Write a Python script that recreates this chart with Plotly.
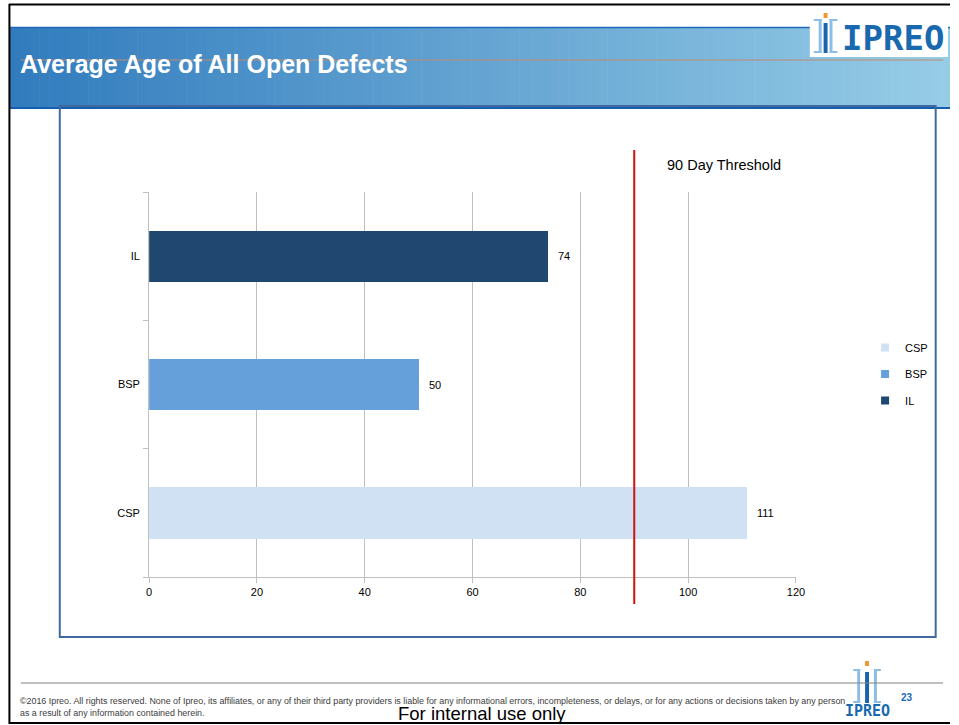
import plotly.graph_objects as go

# ---- data ----
categories = ["CSP", "BSP", "IL"]
values = [111, 50, 74]
colors = ["#D0E1F3", "#65A0DB", "#1F4770"]
x_ticks = [0, 20, 40, 60, 80, 100, 120]
threshold = 90
threshold_label = "90 Day Threshold"
title_text = "Average Age of All Open Defects"
footer_line1 = ("©2016 Ipreo. All rights reserved. None of Ipreo, its affiliates, or any of their third party providers "
                "is liable for any informational errors, incompleteness, or delays, or for any actions or decisions taken by any person")
footer_line2 = "as a result of any information contained herein."
internal_text = "For internal use only"
page_number = "23"

W, H = 959, 725


def px(x):
    return x / W


def py(y):
    return 1 - y / H


fig = go.Figure()

for cat, val, col in zip(categories, values, colors):
    fig.add_trace(go.Bar(
        y=[cat], x=[val], orientation="h", name=cat, marker=dict(color=col, line=dict(width=0)),
        width=0.4, legendgroup=cat, showlegend=False, hoverinfo="x+y",
    ))
# legend entries (small square keys)
for cat, col in zip(categories, colors):
    fig.add_trace(go.Scatter(
        x=[None], y=[None], mode="markers", name=cat, legendgroup=cat,
        marker=dict(symbol="square", size=8, color=col), showlegend=True, hoverinfo="skip",
    ))

shapes = []
annotations = []

# header gradient
x0, x1 = 7, 959
n = 96
c0 = (50, 124, 190)
c1 = (150, 204, 230)
step = (x1 - x0) / n
for i in range(n):
    t = i / (n - 1)
    c = tuple(int(round(c0[k] + (c1[k] - c0[k]) * t)) for k in range(3))
    shapes.append(dict(type="rect", xref="paper", yref="paper",
                       x0=px(x0 + i * step), x1=px(min(x0 + (i + 1) * step + 0.6, W)),
                       y0=py(108), y1=py(27), fillcolor="rgb(%d,%d,%d)" % c, line=dict(width=0), layer="below"))
# header lines
shapes.append(dict(type="line", xref="paper", yref="paper", x0=px(7), x1=1, y0=py(27.5), y1=py(27.5),
                   line=dict(color="rgb(30,105,185)", width=1.5)))
shapes.append(dict(type="line", xref="paper", yref="paper", x0=px(7), x1=1, y0=py(108), y1=py(108),
                   line=dict(color="rgb(20,95,175)", width=2)))
# orange line through title
shapes.append(dict(type="line", xref="paper", yref="paper", x0=px(18), x1=px(952), y0=py(60), y1=py(60),
                   line=dict(color="rgb(190,140,110)", width=1)))
# logo white box
shapes.append(dict(type="rect", xref="paper", yref="paper", x0=px(817), x1=px(957), y0=py(57), y1=py(8),
                   fillcolor="white", line=dict(width=0)))
lb = "rgb(140,190,232)"
db = "rgb(25,100,170)"
og = "rgb(240,150,50)"


def rect(xa, ya, xb, yb, col):
    shapes.append(dict(type="rect", xref="paper", yref="paper", x0=px(xa), x1=px(xb), y0=py(yb), y1=py(ya),
                       fillcolor=col, line=dict(width=0)))


# top logo symbol
rect(826, 19, 829, 53, lb); rect(821, 19, 829, 21, lb); rect(821, 51, 829, 53, lb)
rect(831, 23, 835, 53, db); rect(831, 13, 835, 18, og)
rect(837, 19, 840, 53, lb); rect(837, 19, 845, 21, lb); rect(837, 51, 845, 53, lb)
# bottom logo symbol
rect(865, 669, 868, 703, lb); rect(861, 669, 868, 671, lb); rect(861, 701, 868, 703, lb)
rect(873, 672, 877, 703, db); rect(873, 661, 877, 666, og)
rect(882, 669, 885, 703, lb); rect(882, 669, 889, 671, lb); rect(882, 701, 889, 703, lb)

# slide borders
shapes.append(dict(type="line", xref="paper", yref="paper", x0=px(6), x1=1, y0=py(4.5), y1=py(4.5),
                   line=dict(color="black", width=2)))
shapes.append(dict(type="line", xref="paper", yref="paper", x0=px(6.5), x1=px(6.5), y0=py(4), y1=py(724),
                   line=dict(color="black", width=2)))
shapes.append(dict(type="line", xref="paper", yref="paper", x0=px(6), x1=1, y0=py(723), y1=py(723),
                   line=dict(color="black", width=2)))
# chart frame
shapes.append(dict(type="rect", xref="paper", yref="paper", x0=px(57.5), x1=px(944.5), y0=py(637), y1=py(106),
                   line=dict(color="rgb(65,105,160)", width=2), fillcolor="rgba(0,0,0,0)"))
# footer line
shapes.append(dict(type="line", xref="paper", yref="paper", x0=px(18), x1=px(952), y0=py(683), y1=py(683),
                   line=dict(color="rgb(130,130,130)", width=1)))
# threshold
shapes.append(dict(type="line", xref="x", yref="paper", x0=threshold, x1=threshold, y0=py(604), y1=py(150),
                   line=dict(color="rgb(204,20,10)", width=2)))

# texts
annotations.append(dict(text="<b>" + title_text + "</b>", xref="paper", yref="paper", x=px(15), y=py(64),
                        xanchor="left", yanchor="middle", showarrow=False,
                        font=dict(family="Liberation Sans", size=25, color="white")))
annotations.append(dict(text="<b>IPREO</b>", xref="paper", yref="paper", x=px(848), y=py(38),
                        xanchor="left", yanchor="middle", showarrow=False,
                        font=dict(family="DejaVu Sans Mono", size=34, color="rgb(25,105,175)")))
annotations.append(dict(text="<b>IPREO</b>", xref="paper", yref="paper", x=px(875), y=py(711),
                        xanchor="center", yanchor="middle", showarrow=False,
                        font=dict(family="DejaVu Sans Mono", size=15, color="rgb(25,105,175)")))
annotations.append(dict(text="<b>" + page_number + "</b>", xref="paper", yref="paper", x=px(915), y=py(697),
                        xanchor="center", yanchor="middle", showarrow=False,
                        font=dict(family="Liberation Sans", size=10, color="rgb(25,105,175)")))
annotations.append(dict(text=footer_line1, xref="paper", yref="paper", x=px(15), y=py(701),
                        xanchor="left", yanchor="middle", showarrow=False,
                        font=dict(family="Liberation Sans", size=8.9, color="rgb(60,60,60)")))
annotations.append(dict(text=footer_line2, xref="paper", yref="paper", x=px(15), y=py(713),
                        xanchor="left", yanchor="middle", showarrow=False,
                        font=dict(family="Liberation Sans", size=8.9, color="rgb(60,60,60)")))
annotations.append(dict(text=internal_text, xref="paper", yref="paper", x=px(398), y=py(713),
                        xanchor="left", yanchor="middle", showarrow=False,
                        font=dict(family="Liberation Sans", size=18.5, color="black")))
annotations.append(dict(text=threshold_label, xref="paper", yref="paper", x=px(730), y=py(165),
                        xanchor="center", yanchor="middle", showarrow=False,
                        font=dict(family="Liberation Sans", size=14.5, color="black")))
for cat, val in zip(categories, values):
    annotations.append(dict(text=str(val), x=val, y=cat, xref="x", yref="y", xanchor="left", yanchor="middle",
                            xshift=8, showarrow=False, font=dict(family="Liberation Sans", size=11, color="black")))

fig.update_layout(
    width=W, height=H, autosize=False, margin=dict(l=0, r=0, t=0, b=0),
    paper_bgcolor="white", plot_bgcolor="white",
    barmode="overlay", bargap=0,
    shapes=shapes, annotations=annotations,
    showlegend=True,
    legend=dict(x=px(873), y=py(333), xanchor="left", yanchor="top", traceorder="grouped",
                tracegroupgap=7.5, bgcolor="rgba(0,0,0,0)", itemwidth=30,
                font=dict(family="Liberation Sans", size=11, color="black")),
    xaxis=dict(domain=[px(148), px(803)], range=[0, 120], tickvals=x_ticks, showgrid=True,
               gridcolor="#BFBFBF", gridwidth=1, zeroline=False, showline=True, linecolor="#BFBFBF",
               ticks="outside", ticklen=5, tickcolor="#BFBFBF",
               tickfont=dict(family="Liberation Sans", size=11, color="black"), fixedrange=True),
    yaxis=dict(domain=[py(577), py(192)], categoryorder="array", categoryarray=categories,
               showgrid=False, zeroline=False, showline=True, linecolor="#BFBFBF",
               ticks="outside", ticklen=5, tickcolor="#BFBFBF", tickson="boundaries", ticklabelstandoff=6,
               tickfont=dict(family="Liberation Sans", size=11, color="black"), fixedrange=True),
)

fig.write_html(
    "out.html",
    config={"responsive": False, "displayModeBar": False},
    post_script="document.body.style.margin='0';document.body.style.overflow='hidden';",
)
